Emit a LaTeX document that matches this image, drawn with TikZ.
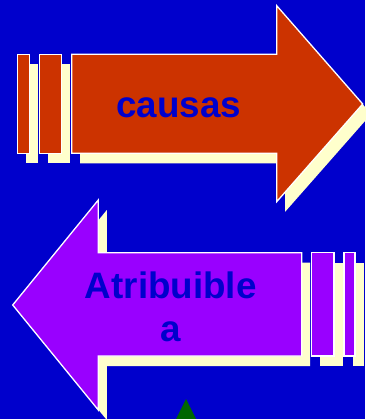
\documentclass[tikz,border=0pt]{standalone}
\usepackage{fontspec}
\setmainfont{Liberation Sans}
\definecolor{bgblue}{HTML}{0000CC}
\definecolor{arrowred}{HTML}{CC3300}
\definecolor{arrowpurple}{HTML}{9900FF}
\definecolor{shadowyellow}{HTML}{FFFFCC}
\definecolor{darkgreen}{HTML}{006600}
\begin{document}
\begin{tikzpicture}[x=1pt,y=-1pt,
  shadowfill/.style={fill=shadowyellow},
  redpart/.style={fill=arrowred,draw=white,line width=1.3pt,line join=miter},
  purplepart/.style={fill=arrowpurple,draw=white,line width=1.3pt,line join=miter},
  lbl/.style={text=bgblue,font=\bfseries\fontsize{36.8}{43.4}\selectfont,inner sep=0pt}]
\fill[bgblue] (0,0) rectangle (365,419);
\useasboundingbox (0,0) rectangle (365,419);
% green triangle
\fill[darkgreen] (186,399) -- (199,425) -- (173,425) -- cycle;
% top arrow shadow
\begin{scope}[shift={(8.5,10)}]
\fill[shadowyellow] (17.3,54.3) rectangle (29.3,153.3);
\fill[shadowyellow] (39.3,54.3) rectangle (61.7,153.3);
\fill[shadowyellow] (71.7,54.3) -- (276.7,54.3) -- (276.7,5.7) -- (362.7,104) -- (276.7,201.7) -- (276.7,153.3) -- (71.7,153.3) -- cycle;
\end{scope}
% top arrow
\draw[redpart] (17.3,54.3) rectangle (29.3,153.3);
\draw[redpart] (39.3,54.3) rectangle (61.7,153.3);
\draw[redpart] (71.7,54.3) -- (276.7,54.3) -- (276.7,5.7) -- (362.7,104) -- (276.7,201.7) -- (276.7,153.3) -- (71.7,153.3) -- cycle;
\node[lbl,anchor=base] (causas) at (178.7,117.3) {causas};
% bottom arrow shadow
\begin{scope}[shift={(8.5,10)}]
\fill[shadowyellow] (311.7,252.7) rectangle (334,356);
\fill[shadowyellow] (344,252.7) rectangle (355,356);
\fill[shadowyellow] (12.7,305) -- (98.3,200) -- (98.3,252.7) -- (301.7,252.7) -- (301.7,356) -- (98.3,356) -- (98.3,410) -- cycle;
\end{scope}
% bottom arrow
\draw[purplepart] (311.7,252.7) rectangle (334,356);
\draw[purplepart] (344,252.7) rectangle (355,356);
\draw[purplepart] (12.7,305) -- (98.3,200) -- (98.3,252.7) -- (301.7,252.7) -- (301.7,356) -- (98.3,356) -- (98.3,410) -- cycle;
\node[lbl,align=center,anchor=base] (atrib) at (170.8,341.7) {Atribuible\\a};
\end{tikzpicture}
\end{document}
